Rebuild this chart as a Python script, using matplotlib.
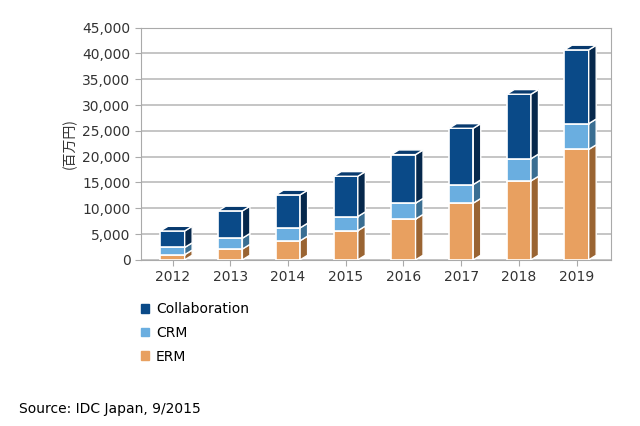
import matplotlib
matplotlib.use("Agg")
import matplotlib.pyplot as plt
from matplotlib.patches import Polygon, Patch

years = ["2012", "2013", "2014", "2015", "2016", "2017", "2018", "2019"]
erm = [1000, 2100, 3700, 5650, 7900, 11000, 15300, 21400]
crm = [1400, 2100, 2500, 2750, 3100, 3600, 4300, 5000]
collab = [3200, 5300, 6400, 7800, 9400, 10900, 12500, 14300]

colors = {"ERM": ("#e8a060", "#9a6432", "#f0c090"),
          "CRM": ("#6aaee0", "#3a6e92", "#a0d0f0"),
          "Collaboration": ("#0a4a88", "#06284c", "#1a5a98")}

plt.rcParams["font.family"] = ["DejaVu Sans", "Noto Sans CJK JP"]
fig = plt.figure(figsize=(6.4, 4.26), dpi=100)
ax = fig.add_axes([0.22, 0.39, 0.735, 0.545])

w = 0.42
dx, dy = 0.13, 900
x = list(range(len(years)))
for i in x:
    bottom = 0
    for name, vals in (("ERM", erm), ("CRM", crm), ("Collaboration", collab)):
        v = vals[i]
        front, side, top = colors[name]
        ax.bar(i, v, w, bottom=bottom, color=front, edgecolor="white", linewidth=1.2, zorder=3)
        r = i + w / 2
        ax.add_patch(Polygon([(r, bottom), (r + dx, bottom + dy), (r + dx, bottom + v + dy), (r, bottom + v)],
                             closed=True, facecolor=side, edgecolor="white", linewidth=1, zorder=3))
        bottom += v
    l = i - w / 2
    ax.add_patch(Polygon([(l, bottom), (l + dx, bottom + dy), (l + w + dx, bottom + dy), (l + w, bottom)],
                         closed=True, facecolor="#083a6e", edgecolor="white", linewidth=1, zorder=3))

ax.set_xlim(-0.55, len(years) - 0.4)
ax.set_ylim(0, 45000)
ax.set_yticks(range(0, 45001, 5000))
ax.set_yticklabels([f"{v:,}" for v in range(0, 45001, 5000)], fontsize=10, color="#333333")
ax.set_xticks(x)
ax.set_xticklabels(years, fontsize=10, color="#333333")
ax.set_ylabel("(百万円)", fontsize=10, color="#333333", family=["Noto Sans CJK JP", "DejaVu Sans"])
ax.grid(axis="y", color="#bbbbbb", linewidth=1.2, zorder=0)
ax.set_axisbelow(True)
for s in ax.spines.values():
    s.set_color("#aaaaaa")
ax.tick_params(length=4, color="#aaaaaa")

handles = [Patch(color=colors[n][0], label=n) for n in ("Collaboration", "CRM", "ERM")]
fig.legend(handles=handles, loc="upper left", bbox_to_anchor=(0.2, 0.22 + 0.1), frameon=False,
           handlelength=0.6, handleheight=0.6, labelspacing=0.7, handletextpad=0.5,
           prop={"family": "DejaVu Sans", "size": 10})
fig.text(0.03, 0.03, "Source: IDC Japan, 9/2015", fontsize=10)
fig.savefig("out.png", dpi=100)
